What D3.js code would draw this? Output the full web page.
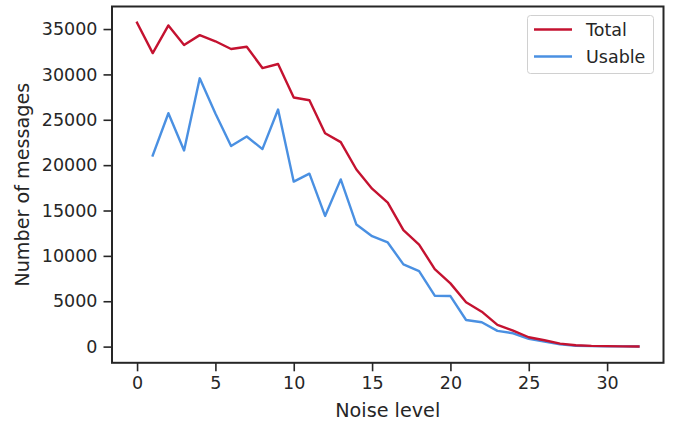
<!DOCTYPE html>
<html>
<head>
<meta charset="utf-8">
<script src="https://cdn.jsdelivr.net/npm/d3@7"></script>
<style>
  html, body { margin: 0; padding: 0; background: #fff; }
  text { font-family: "DejaVu Sans", sans-serif; fill: #262626; }
</style>
</head>
<body>
<svg id="chart" width="680" height="423"></svg>
<script>
const totalX = [0,1,2,3,4,5,6,7,8,9,10,11,12,13,14,15,16,17,18,19,20,21,22,23,24,25,26,27,28,29,30,31,32];
const totalY = [35700,32350,35400,33250,34330,33650,32800,33050,30700,31150,27450,27150,23520,22540,19520,17410,15870,12830,11250,8540,6970,4880,3850,2390,1760,1030,700,330,150,80,50,30,20];
const usableX = [1,2,3,4,5,6,7,8,9,10,11,12,13,14,15,16,17,18,19,20,21,22,23,24,25,26,27,28,29,30,31,32];
const usableY = [21070,25720,21620,29570,25700,22100,23160,21770,26130,18180,19060,14400,18430,13450,12170,11480,9060,8320,5610,5570,2930,2680,1730,1470,850,550,250,100,50,30,20,10];
const xTicks = [0,5,10,15,20,25,30];
const yTicks = [0,5000,10000,15000,20000,25000,30000,35000];
const seriesNames = ["Total","Usable"];
const seriesColors = ["#c41230","#4a90e2"];

const svg = d3.select("#chart");
const L = 112, R = 663.5, T = 6.5, B = 362.8;

const x = d3.scaleLinear().domain([-1.6, 33.6]).range([L, R]);
const ymax = 35700, ymin = 0, pad = (ymax - ymin) * 0.05;
const y = d3.scaleLinear().domain([ymin - pad, ymax + pad]).range([B, T]);

const line = d3.line().x(d => x(d[0])).y(d => y(d[1]));

const series = [
  totalX.map((v, i) => [v, totalY[i]]),
  usableX.map((v, i) => [v, usableY[i]])
];

// lines (usable first so total on top)
[1, 0].forEach(i => {
  svg.append("path")
    .datum(series[i])
    .attr("fill", "none")
    .attr("stroke", seriesColors[i])
    .attr("stroke-width", 2.4)
    .attr("stroke-linejoin", "round")
    .attr("stroke-linecap", "square")
    .attr("d", line);
});

// x axis
const xAxis = svg.append("g")
  .attr("transform", `translate(0,${B})`)
  .call(d3.axisBottom(x).tickValues(xTicks).tickSize(8.5).tickPadding(5).tickFormat(d3.format("d")));
xAxis.select(".domain").remove();
xAxis.selectAll(".tick line").attr("stroke", "#262626").attr("stroke-width", 1.6);
xAxis.selectAll(".tick text").style("font-size", "17.5px").attr("fill", "#262626");

// y axis
const yAxis = svg.append("g")
  .attr("transform", `translate(${L},0)`)
  .call(d3.axisLeft(y).tickValues(yTicks).tickSize(8.5).tickPadding(6).tickFormat(d3.format("d")));
yAxis.select(".domain").remove();
yAxis.selectAll(".tick line").attr("stroke", "#262626").attr("stroke-width", 1.6);
yAxis.selectAll(".tick text").style("font-size", "17.5px").attr("fill", "#262626");

// frame
svg.append("rect")
  .attr("x", L).attr("y", T)
  .attr("width", R - L).attr("height", B - T)
  .attr("fill", "none").attr("stroke", "#262626").attr("stroke-width", 2);

// axis labels
svg.append("text")
  .attr("x", (L + R) / 2).attr("y", 417)
  .attr("text-anchor", "middle")
  .style("font-size", "19.2px")
  .text("Noise level");
svg.append("text")
  .attr("transform", `translate(29,${(T + B) / 2}) rotate(-90)`)
  .attr("text-anchor", "middle")
  .style("font-size", "19.2px")
  .text("Number of messages");

// legend
const lg = svg.append("g");
lg.append("rect")
  .attr("x", 527.5).attr("y", 15.5).attr("width", 126).attr("height", 58)
  .attr("rx", 3).attr("fill", "#fff").attr("fill-opacity", 0.8)
  .attr("stroke", "#d0d0d0").attr("stroke-width", 1);
seriesNames.forEach((name, i) => {
  const yy = 29.5 + i * 27;
  lg.append("line")
    .attr("x1", 534).attr("x2", 572).attr("y1", yy).attr("y2", yy)
    .attr("stroke", seriesColors[i]).attr("stroke-width", 2.4);
  lg.append("text")
    .attr("x", 586).attr("y", yy + 6.3)
    .style("font-size", "17.5px")
    .text(name);
});
</script>
</body>
</html>
